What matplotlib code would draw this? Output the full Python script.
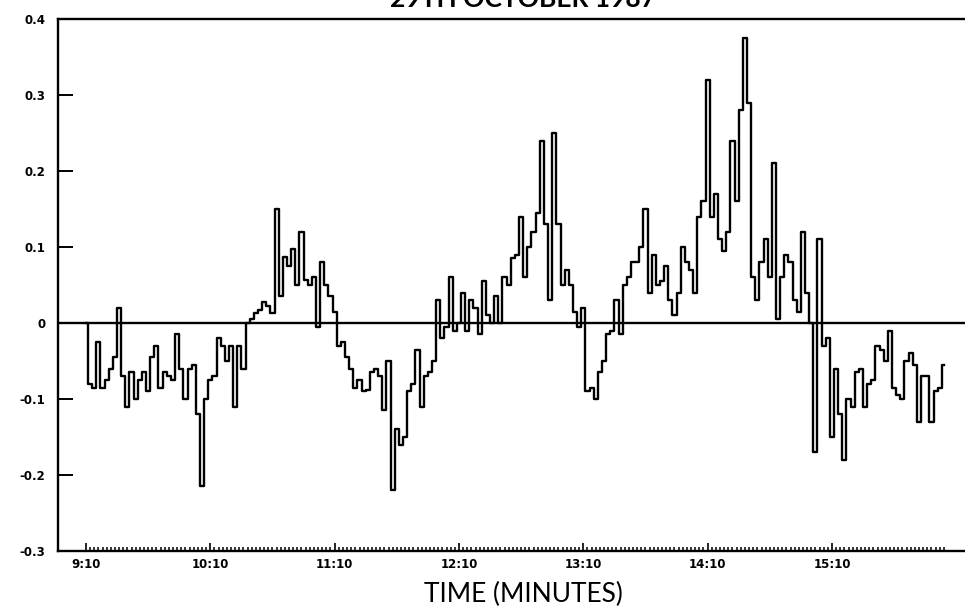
import matplotlib.pyplot as plt
import numpy as np

# minutes after 9:10, sampled every 2 minutes
hour_1 = [0.0, -0.08, -0.085, -0.025, -0.085, -0.075, -0.06, -0.045, 0.02, -0.07,
          -0.11, -0.065, -0.10, -0.075, -0.065, -0.09, -0.045, -0.03, -0.085, -0.065,
          -0.07, -0.075, -0.015, -0.06, -0.10, -0.06, -0.055, -0.12, -0.215, -0.10]
hour_2 = [-0.075, -0.07, -0.02, -0.03, -0.05, -0.03, -0.11, -0.03, -0.06, 0.0,
          0.005, 0.013, 0.017, 0.027, 0.022, 0.013, 0.15, 0.035, 0.087, 0.075,
          0.097, 0.05, 0.12, 0.057, 0.05, 0.06, -0.005, 0.08, 0.05, 0.035]
hour_3 = [0.015, -0.03, -0.025, -0.045, -0.06, -0.085, -0.075, -0.09, -0.088, -0.065,
          -0.06, -0.07, -0.115, -0.05, -0.22, -0.14, -0.16, -0.15, -0.09, -0.08,
          -0.035, -0.11, -0.07, -0.065, -0.05, 0.03, -0.02, -0.005, 0.06, -0.01]
hour_4 = [0.0, 0.04, -0.01, 0.03, 0.02, -0.015, 0.055, 0.01, 0.0, 0.035,
          0.0, 0.06, 0.05, 0.085, 0.09, 0.14, 0.06, 0.10, 0.12, 0.145,
          0.24, 0.13, 0.03, 0.25, 0.13, 0.05, 0.07, 0.05, 0.015, -0.005]
hour_5 = [0.02, -0.09, -0.085, -0.10, -0.065, -0.05, -0.015, -0.01, 0.03, -0.015,
          0.05, 0.06, 0.08, 0.08, 0.10, 0.15, 0.04, 0.09, 0.05, 0.055,
          0.075, 0.03, 0.01, 0.04, 0.10, 0.08, 0.07, 0.04, 0.14, 0.16]
hour_6 = [0.32, 0.14, 0.17, 0.11, 0.095, 0.12, 0.24, 0.16, 0.28, 0.375,
          0.29, 0.06, 0.03, 0.08, 0.11, 0.06, 0.21, 0.005, 0.06, 0.09,
          0.08, 0.03, 0.015, 0.12, 0.04, 0.0, -0.17, 0.11, -0.03, -0.02]
hour_7 = [-0.15, -0.06, -0.12, -0.18, -0.10, -0.11, -0.065, -0.06, -0.11, -0.08,
          -0.075, -0.03, -0.035, -0.05, -0.01, -0.085, -0.095, -0.10, -0.05, -0.04,
          -0.055, -0.13, -0.07, -0.07, -0.13, -0.09, -0.085, -0.055]

values = np.array(hour_1 + hour_2 + hour_3 + hour_4 + hour_5 + hour_6 + hour_7)
minutes = np.arange(0, 2 * len(values), 2)

hour_ticks = [0, 60, 120, 180, 240, 300, 360]
hour_labels = ['9:10', '10:10', '11:10', '12:10', '13:10', '14:10', '15:10']
y_ticks = [-0.3, -0.2, -0.1, 0, 0.1, 0.2, 0.3, 0.4]
y_labels = ['-0.3', '-0.2', '-0.1', '0', '0.1', '0.2', '0.3', '0.4']

fig = plt.figure(figsize=(9.65, 6.1), dpi=100)
ax = fig.add_axes([0.0601, 0.0967, 0.9399, 0.8722])

ax.plot(minutes, values, color='black', lw=1.7, drawstyle='steps-mid')
ax.axhline(0, color='black', lw=1.7)

ax.set_xlim(-13.5, 424.2)
ax.set_ylim(-0.3, 0.4)

for s in ['left', 'top', 'bottom']:
    ax.spines[s].set_linewidth(1.7)
ax.spines['right'].set_visible(False)

ax.set_xticks(hour_ticks)
ax.set_xticklabels(hour_labels, fontweight='bold', fontsize=8.5)
ax.set_xticks(np.arange(0, 416, 2), minor=True)
ax.set_yticks(y_ticks)
ax.set_yticklabels(y_labels, fontweight='bold', fontsize=8.5)

ax.tick_params(axis='x', which='major', direction='in', length=6, width=1.2, pad=5)
ax.tick_params(axis='x', which='minor', direction='in', length=3, width=1.1)
ax.tick_params(axis='y', which='major', direction='in', length=11, width=1.4, pad=9)
ax.tick_params(top=False, right=False)

fig.text(523 / 965, 1 - 602 / 610, 'TIME (MINUTES)', ha='center', va='baseline',
         fontsize=19, family='Lato')
fig.text(523 / 965, 1 - 7 / 610, '29TH OCTOBER 1987', ha='center', va='baseline',
         fontsize=19, fontweight='bold', family='Lato')

fig.savefig('out.png', dpi=100)
